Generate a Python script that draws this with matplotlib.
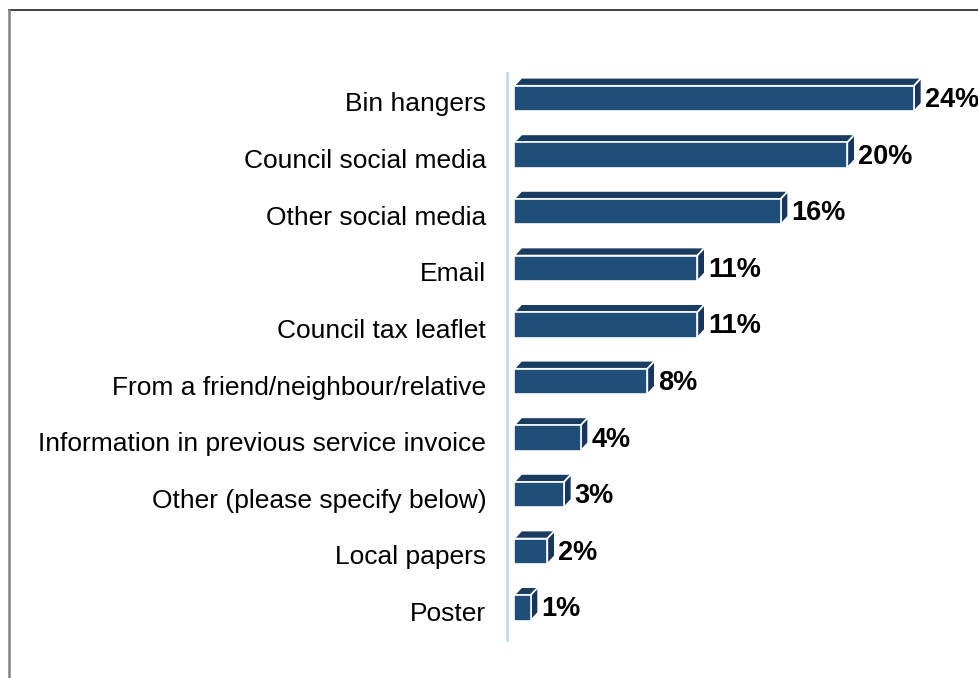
import matplotlib
matplotlib.use("Agg")
import matplotlib.pyplot as plt
from matplotlib.patches import Polygon
from matplotlib.lines import Line2D
from matplotlib.transforms import ScaledTranslation

categories = [
    "Bin hangers",
    "Council social media",
    "Other social media",
    "Email",
    "Council tax leaflet",
    "From a friend/neighbour/relative",
    "Information in previous service invoice",
    "Other (please specify below)",
    "Local papers",
    "Poster",
]
values = [24, 20, 16, 11, 11, 8, 4, 3, 2, 1]
value_labels = ["24%", "20%", "16%", "11%", "11%", "8%", "4%", "3%", "2%", "1%"]

plt.rcParams["font.family"] = ["Liberation Sans", "DejaVu Sans"]

W, H = 979, 678
fig = plt.figure(figsize=(W / 100, H / 100), dpi=100)

# axes geometry in pixels
ax_left, ax_top, ax_bottom = 507, 73, 640
px_per_unit = 16.667
slot = 56.6
first_center = 98.5

ax = fig.add_axes([ax_left / W, 1 - ax_bottom / H, (W - ax_left) / W, (ax_bottom - ax_top) / H])
x0 = -(514 - ax_left) / px_per_unit
ax.set_xlim(x0, x0 + (W - ax_left) / px_per_unit)
ax.set_ylim((ax_bottom - first_center) / slot, -(first_center - ax_top) / slot)

front = "#1F4E79"
top_c = "#1A3C60"
side_c = "#17375E"
edge = "white"

h = 25.5 / slot
dx = 7.5 / px_per_unit
dy = 8 / slot

ypos = list(range(len(categories)))
ax.barh(ypos, values, height=h, left=0, color=front, edgecolor=edge, linewidth=1.2, zorder=3)
for y, v in zip(ypos, values):
    top = y - h / 2
    bot = y + h / 2
    ax.add_patch(Polygon([(0, top), (v, top), (v + dx, top - dy), (dx, top - dy)],
                         closed=True, facecolor=top_c, edgecolor=edge, linewidth=1.2, zorder=2))
    ax.add_patch(Polygon([(v, top), (v + dx, top - dy), (v + dx, bot - dy), (v, bot)],
                         closed=True, facecolor=side_c, edgecolor=edge, linewidth=1.2, zorder=2))

for y, v, lab in zip(ypos, values, value_labels):
    ax.text(v + dx + 3 / px_per_unit, y + 1.5 / slot, lab, ha="left", va="center",
            fontsize=19.5, fontweight="bold", color="black", zorder=4, clip_on=False)

ax.set_yticks(ypos)
ax.set_yticklabels(categories, fontsize=19, color="black")
ax.tick_params(axis="y", length=0, pad=15)
shift = ScaledTranslation(0, -3.5 / 100, fig.dpi_scale_trans)
for lbl in ax.get_yticklabels():
    lbl.set_transform(lbl.get_transform() + shift)
ax.set_xticks([])
for s in ["top", "right", "bottom"]:
    ax.spines[s].set_visible(False)
ax.spines["left"].set_color("#C5D9F1")
ax.spines["left"].set_linewidth(2)
ax.patch.set_visible(False)

# outer frame (top and left edges)
fig.add_artist(Line2D([9 / W, 1], [1 - 10 / H, 1 - 10 / H], transform=fig.transFigure,
                      color="#222222", linewidth=1.2))
fig.add_artist(Line2D([9 / W, 9 / W], [0, 1 - 10 / H], transform=fig.transFigure,
                      color="#808080", linewidth=1.8))

fig.savefig("out.png", dpi=100)
